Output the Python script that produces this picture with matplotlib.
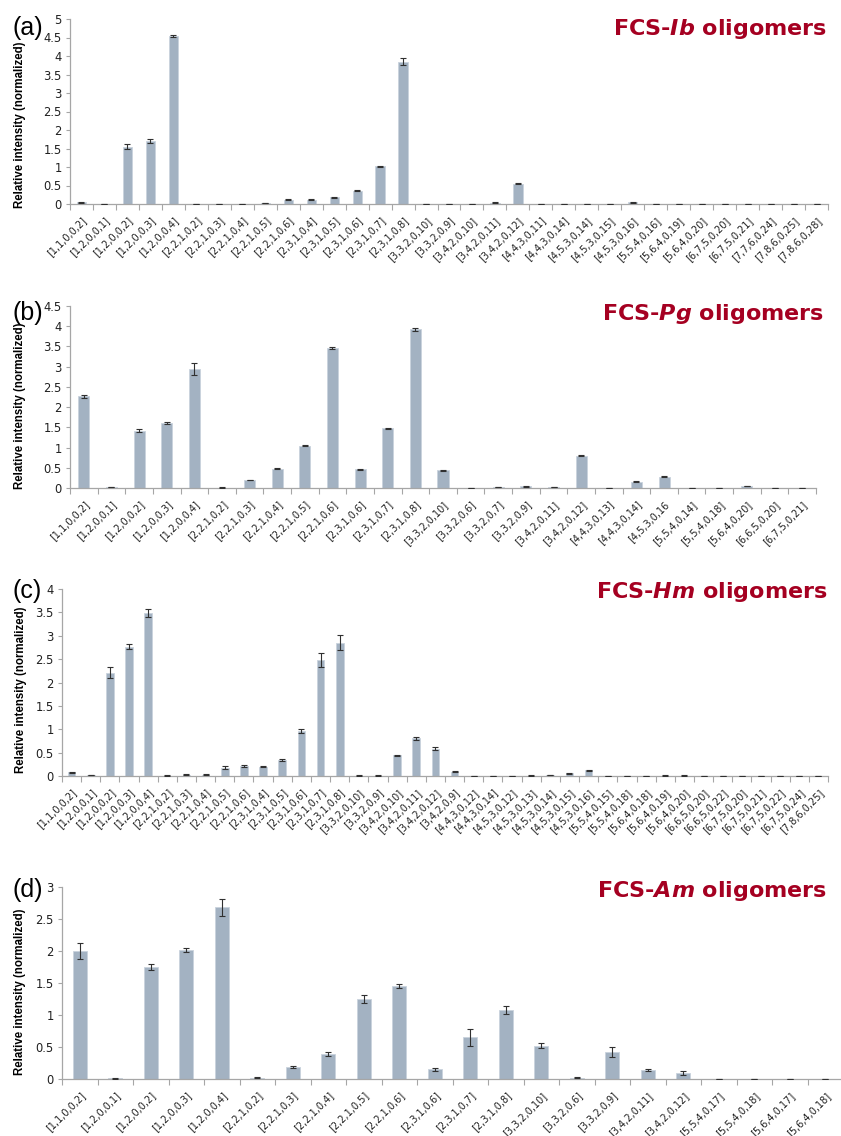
import matplotlib
matplotlib.use("Agg")
import matplotlib.pyplot as plt
import numpy as np

plt.rcParams['mathtext.fontset'] = 'custom'
plt.rcParams['mathtext.it'] = 'DejaVu Sans:bold:italic'
plt.rcParams['mathtext.rm'] = 'DejaVu Sans:bold'

# ---------------- data ----------------
labels_a = ["[1,1,0,0,2]", "[1,2,0,0,1]", "[1,2,0,0,2]", "[1,2,0,0,3]", "[1,2,0,0,4]",
            "[2,2,1,0,2]", "[2,2,1,0,3]", "[2,2,1,0,4]", "[2,2,1,0,5]", "[2,2,1,0,6]",
            "[2,3,1,0,4]", "[2,3,1,0,5]", "[2,3,1,0,6]", "[2,3,1,0,7]", "[2,3,1,0,8]",
            "[3,3,2,0,10]", "[3,3,2,0,9]", "[3,4,2,0,10]", "[3,4,2,0,11]", "[3,4,2,0,12]",
            "[4,4,3,0,11]", "[4,4,3,0,14]", "[4,5,3,0,14]", "[4,5,3,0,15]", "[4,5,3,0,16]",
            "[5,5,4,0,16]", "[5,6,4,0,19]", "[5,6,4,0,20]", "[6,7,5,0,20]", "[6,7,5,0,21]",
            "[7,7,6,0,24]", "[7,8,6,0,25]", "[7,8,6,0,28]"]
values_a = [0.05, 0, 1.55, 1.70, 4.55, 0, 0, 0, 0.03, 0.12, 0.12, 0.18, 0.36, 1.02, 3.85,
            0, 0, 0.01, 0.04, 0.55, 0, 0, 0, 0, 0.05, 0, 0, 0, 0, 0, 0, 0, 0]
errors_a = [0.01, 0, 0.07, 0.05, 0.03, 0, 0, 0, 0.005, 0.01, 0.01, 0.01, 0.01, 0.01, 0.10,
            0, 0, 0.003, 0.005, 0.01, 0, 0, 0, 0, 0.01, 0, 0, 0, 0, 0, 0, 0, 0]

labels_b = ["[1,1,0,0,2]", "[1,2,0,0,1]", "[1,2,0,0,2]", "[1,2,0,0,3]", "[1,2,0,0,4]",
            "[2,2,1,0,2]", "[2,2,1,0,3]", "[2,2,1,0,4]", "[2,2,1,0,5]", "[2,2,1,0,6]",
            "[2,3,1,0,6]", "[2,3,1,0,7]", "[2,3,1,0,8]", "[3,3,2,0,10]", "[3,3,2,0,6]",
            "[3,3,2,0,7]", "[3,3,2,0,9]", "[3,4,2,0,11]", "[3,4,2,0,12]", "[4,4,3,0,13]",
            "[4,4,3,0,14]", "[4,5,3,0,16", "[5,5,4,0,14]", "[5,5,4,0,18]", "[5,6,4,0,20]",
            "[6,6,5,0,20]", "[6,7,5,0,21]"]
values_b = [2.27, 0.02, 1.42, 1.60, 2.95, 0.01, 0.20, 0.48, 1.05, 3.46, 0.46, 1.48, 3.92,
            0.44, 0, 0.02, 0.04, 0.02, 0.80, 0, 0.16, 0.28, 0, 0, 0.05, 0, 0]
errors_b = [0.04, 0.005, 0.03, 0.02, 0.15, 0.003, 0.005, 0.01, 0.01, 0.03, 0.02, 0.01, 0.04,
            0.01, 0, 0.003, 0.005, 0.003, 0.01, 0, 0.01, 0.01, 0, 0, 0.005, 0, 0]

labels_c = ["[1,1,0,0,2]", "[1,2,0,0,1]", "[1,2,0,0,2]", "[1,2,0,0,3]", "[1,2,0,0,4]",
            "[2,2,1,0,2]", "[2,2,1,0,3]", "[2,2,1,0,4]", "[2,2,1,0,5]", "[2,2,1,0,6]",
            "[2,3,1,0,4]", "[2,3,1,0,5]", "[2,3,1,0,6]", "[2,3,1,0,7]", "[2,3,1,0,8]",
            "[3,3,2,0,10]", "[3,3,2,0,9]", "[3,4,2,0,10]", "[3,4,2,0,11]", "[3,4,2,0,12]",
            "[3,4,2,0,9]", "[4,4,3,0,12]", "[4,4,3,0,14]", "[4,5,3,0,12]", "[4,5,3,0,13]",
            "[4,5,3,0,14]", "[4,5,3,0,15]", "[4,5,3,0,16]", "[5,5,4,0,15]", "[5,5,4,0,18]",
            "[5,6,4,0,18]", "[5,6,4,0,19]", "[5,6,4,0,20]", "[6,6,5,0,20]", "[6,6,5,0,22]",
            "[6,7,5,0,20]", "[6,7,5,0,21]", "[6,7,5,0,22]", "[6,7,5,0,24]", "[7,8,6,0,25]"]
values_c = [0.08, 0.02, 2.21, 2.77, 3.49, 0.01, 0.03, 0.03, 0.18, 0.21, 0.20, 0.35, 0.96,
            2.48, 2.85, 0.01, 0.01, 0.44, 0.81, 0.58, 0.09, 0, 0, 0, 0.01, 0.02, 0.06, 0.12,
            0, 0, 0, 0.01, 0.01, 0, 0, 0, 0, 0, 0, 0]
errors_c = [0.01, 0.003, 0.12, 0.05, 0.09, 0.003, 0.005, 0.005, 0.03, 0.02, 0.01, 0.02, 0.05,
            0.15, 0.16, 0.003, 0.003, 0.01, 0.03, 0.03, 0.01, 0, 0, 0, 0.003, 0.005, 0.01, 0.01,
            0, 0, 0, 0.003, 0.003, 0, 0, 0, 0, 0, 0, 0]

labels_d = ["[1,1,0,0,2]", "[1,2,0,0,1]", "[1,2,0,0,2]", "[1,2,0,0,3]", "[1,2,0,0,4]",
            "[2,2,1,0,2]", "[2,2,1,0,3]", "[2,2,1,0,4]", "[2,2,1,0,5]", "[2,2,1,0,6]",
            "[2,3,1,0,6]", "[2,3,1,0,7]", "[2,3,1,0,8]", "[3,3,2,0,10]", "[3,3,2,0,6]",
            "[3,3,2,0,9]", "[3,4,2,0,11]", "[3,4,2,0,12]", "[5,5,4,0,17]", "[5,5,4,0,18]",
            "[5,6,4,0,17]", "[5,6,4,0,18]"]
values_d = [2.00, 0.01, 1.75, 2.01, 2.68, 0.02, 0.19, 0.39, 1.25, 1.45, 0.15, 0.65, 1.08,
            0.52, 0.02, 0.42, 0.14, 0.09, 0, 0.005, 0, 0.005]
errors_d = [0.13, 0.005, 0.05, 0.03, 0.14, 0.005, 0.02, 0.03, 0.06, 0.03, 0.02, 0.13, 0.06,
            0.04, 0.01, 0.08, 0.02, 0.03, 0, 0.002, 0, 0.002]

panel_letters = ["(a)", "(b)", "(c)", "(d)"]
species = ["Ib", "Pg", "Hm", "Am"]
ymax_list = [5, 4.5, 4, 3]

# ---------------- layout (pixels) ----------------
W, H = 841, 1136
# left, right, top, bottom  in px
boxes = [(70, 828, 19, 204), (70, 816, 306, 488), (62, 828, 589, 776), (62, 843, 887, 1079)]
title_base = [35, 320, 598, 897]
title_right = [827, 824, 828, 827]
ylab_x = [26, 26.5, 27, 26.5]
ylab_y = [0.43, 0.45, 0.46, 0.453]

bar_color = "#A3B2C2"
bar_edge = "#C9D3DD"
spine_color = "#A6A6A6"
title_color = "#A50021"

fig = plt.figure(figsize=(W / 100, H / 100), dpi=100)
fig.patch.set_facecolor("white")

datasets = [(labels_a, values_a, errors_a), (labels_b, values_b, errors_b),
            (labels_c, values_c, errors_c), (labels_d, values_d, errors_d)]

for k, (labs, vals, errs) in enumerate(datasets):
    l, r, t, b = boxes[k]
    ax = fig.add_axes([l / W, 1 - b / H, (r - l) / W, (b - t) / H])
    n = len(labs)
    x = np.arange(n)
    ax.bar(x, vals, width=0.4, color=bar_color, edgecolor=bar_edge, linewidth=0.6, zorder=2)
    ax.errorbar(x, vals, yerr=errs, fmt="none", ecolor="#303030", elinewidth=0.8,
                capsize=2.5, capthick=0.8, zorder=3)
    ax.set_xlim(-0.5, n - 0.5)
    ax.set_ylim(0, ymax_list[k])
    ax.set_yticks(np.arange(0, ymax_list[k] + 0.001, 0.5))
    ax.set_yticklabels([f"{v:g}" for v in np.arange(0, ymax_list[k] + 0.001, 0.5)],
                       fontsize=8.3, family="DejaVu Sans", color="#202020")
    # category boundaries as major ticks, labels as minor ticks
    ax.set_xticks(np.arange(-0.5, n, 1.0))
    ax.set_xticklabels([])
    ax.set_xticks(x, minor=True)
    ax.set_xticklabels(labs, minor=True, rotation=45, ha="right", va="top",
                       rotation_mode="anchor", fontsize=7, family="DejaVu Sans",
                       color="#202020")
    ax.tick_params(axis="x", which="major", length=4, width=0.8, color=spine_color,
                   direction="out")
    ax.tick_params(axis="x", which="minor", length=0, pad=8)
    ax.tick_params(axis="y", length=3, width=0.8, color=spine_color, direction="out",
                   pad=3)
    for s in ["top", "right"]:
        ax.spines[s].set_visible(False)
    for s in ["left", "bottom"]:
        ax.spines[s].set_color(spine_color)
        ax.spines[s].set_linewidth(0.9)
    ax.set_ylabel("Relative intensity (normalized)", fontsize=8.3, fontweight="bold",
                  family="Liberation Sans")
    ax.yaxis.set_label_coords((ylab_x[k] - l) / (r - l), ylab_y[k])

    # panel letter and title
    fig.text(12 / W, 1 - title_base[k] / H, panel_letters[k], fontsize=18,
             family="Liberation Sans", ha="left", va="baseline", color="black")
    fig.text(title_right[k] / W, 1 - title_base[k] / H,
             "FCS-$" + species[k] + "$ oligomers", fontsize=16, fontweight="bold",
             family="DejaVu Sans", color=title_color, ha="right", va="baseline")

fig.savefig("out.png", dpi=100, facecolor="white")
